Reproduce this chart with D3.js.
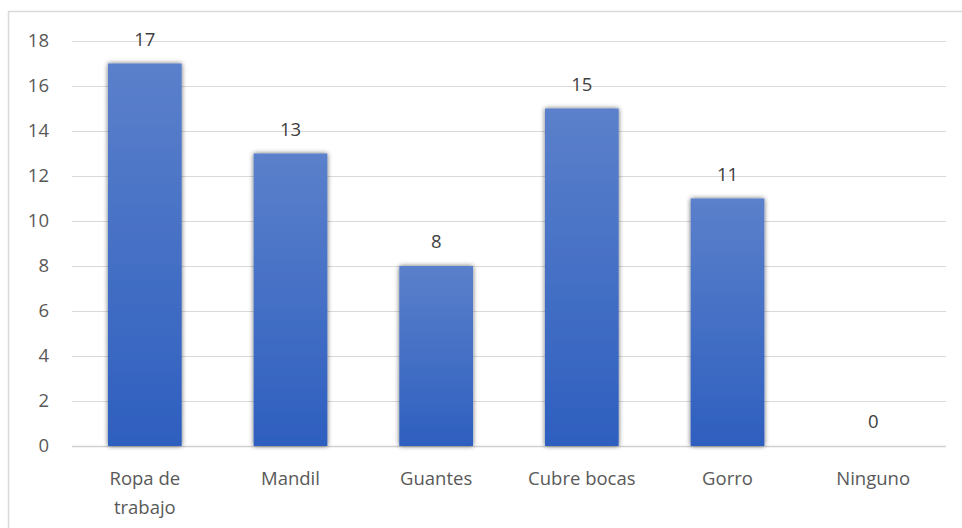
<!DOCTYPE html>
<html>
<head>
<meta charset="utf-8">
<script src="https://cdn.jsdelivr.net/npm/d3@7"></script>
<style>
  body { margin: 0; background: #fff; }
  text { font-family: "Open Sans", "Noto Sans", sans-serif; fill: #595959; }
</style>
</head>
<body>
<svg width="962" height="528"></svg>
<script>
var categorias = [["Ropa de", "trabajo"], ["Mandil"], ["Guantes"], ["Cubre bocas"], ["Gorro"], ["Ninguno"]];
var valores = [17, 13, 8, 15, 11, 0];
var ticks = [0, 2, 4, 6, 8, 10, 12, 14, 16, 18];

var svg = d3.select("svg"),
    width = +svg.attr("width"),
    height = +svg.attr("height");

var margin = {left: 72, right: 16, top: 41, bottom: 82};

svg.append("rect")
    .attr("x", 8.5).attr("y", 11.5)
    .attr("width", 970).attr("height", 540)
    .attr("fill", "#fff")
    .attr("stroke", "#d9d9d9")
    .attr("stroke-width", 1.5);

var x = d3.scaleBand()
    .domain(d3.range(categorias.length))
    .range([margin.left, width - margin.right])
    .paddingInner(0.494)
    .paddingOuter(0.247);

var y = d3.scaleLinear()
    .domain([0, 18])
    .range([height - margin.bottom, margin.top]);

var defs = svg.append("defs");
var grad = defs.append("linearGradient")
    .attr("id", "barra")
    .attr("x1", 0).attr("y1", 0).attr("x2", 0).attr("y2", 1);
grad.append("stop").attr("offset", "0%").attr("stop-color", "#5b80cb");
grad.append("stop").attr("offset", "100%").attr("stop-color", "#2e5fbf");

var filtro = defs.append("filter").attr("id", "sombra")
    .attr("x", "-20%").attr("y", "-20%").attr("width", "140%").attr("height", "140%");
filtro.append("feGaussianBlur").attr("in", "SourceAlpha").attr("stdDeviation", 2.5);
filtro.append("feComponentTransfer").append("feFuncA").attr("type", "linear").attr("slope", 0.6);
var merge = filtro.append("feMerge");
merge.append("feMergeNode");
merge.append("feMergeNode").attr("in", "SourceGraphic");

// grid
svg.append("g")
    .selectAll("line")
    .data(ticks)
    .enter()
    .append("line")
    .attr("x1", margin.left)
    .attr("x2", width - margin.right)
    .attr("y1", d => Math.round(y(d)) + 0.5)
    .attr("y2", d => Math.round(y(d)) + 0.5)
    .attr("stroke", d => d == 0 ? "#d0d0d0" : "#d9d9d9")
    .attr("stroke-width", d => d == 0 ? 1.5 : 1);

// y labels
svg.append("g")
    .selectAll("text")
    .data(ticks)
    .enter()
    .append("text")
    .attr("x", 49)
    .attr("y", d => y(d))
    .attr("dy", "0.35em")
    .attr("text-anchor", "end")
    .attr("font-size", 18.5)
    .text(d => d);

// bars
svg.append("g")
    .selectAll("rect")
    .data(valores)
    .enter()
    .append("rect")
    .attr("x", (d, i) => x(i))
    .attr("y", d => y(d))
    .attr("width", x.bandwidth())
    .attr("height", d => y(0) - y(d))
    .attr("fill", "url(#barra)")
    .attr("filter", "url(#sombra)");

// value labels
svg.append("g")
    .selectAll("text")
    .data(valores)
    .enter()
    .append("text")
    .attr("x", (d, i) => x(i) + x.bandwidth() / 2)
    .attr("y", d => y(d) - 18)
    .attr("text-anchor", "middle")
    .attr("font-size", 18.5)
    .style("fill", "#404040")
    .text(d => d);

// category labels
var cat = svg.append("g")
    .selectAll("text")
    .data(categorias)
    .enter()
    .append("text")
    .attr("x", (d, i) => x(i) + x.bandwidth() / 2)
    .attr("y", 485)
    .attr("text-anchor", "middle")
    .attr("font-size", 18.5);
cat.selectAll("tspan")
    .data(d => d)
    .enter()
    .append("tspan")
    .attr("x", function() { return d3.select(this.parentNode).attr("x"); })
    .attr("dy", (d, j) => j == 0 ? 0 : 29)
    .text(d => d);
</script>
</body>
</html>
